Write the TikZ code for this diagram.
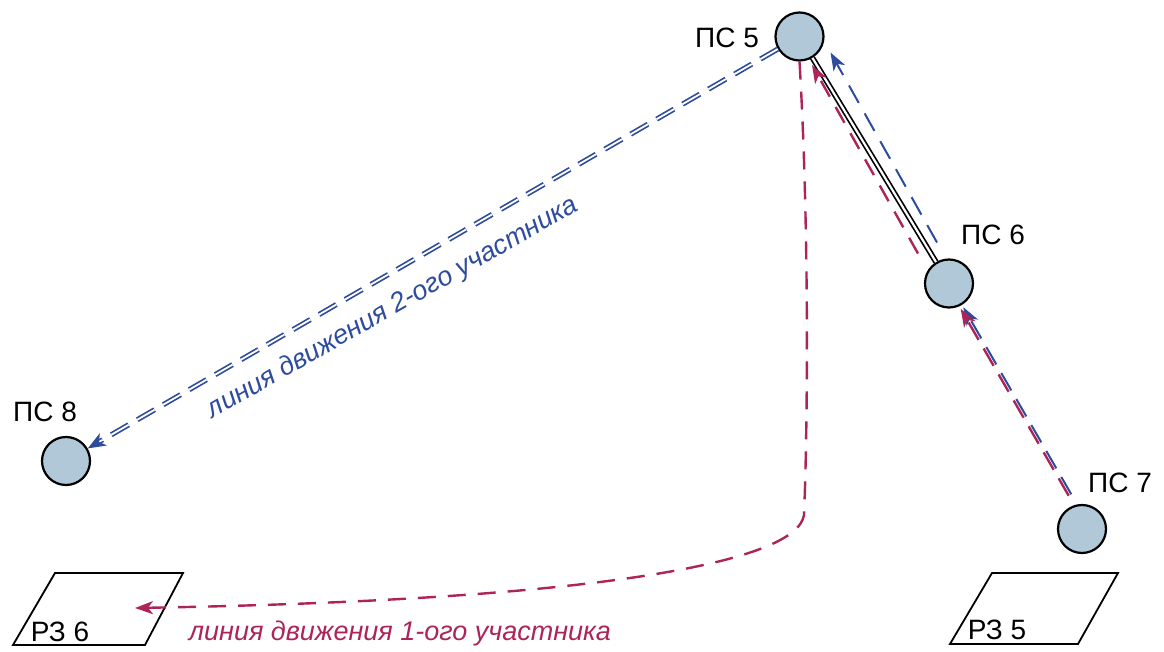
\documentclass[tikz,border=0pt]{standalone}
\usepackage{fontspec}
\setmainfont{Liberation Sans}
\usepackage{xcolor}
\usetikzlibrary{positioning, arrows.meta, calc}

\definecolor{routeblue}{RGB}{46,76,158}
\definecolor{routered}{RGB}{172,36,88}
\definecolor{stfill}{RGB}{176,200,216}

\begin{document}
\begin{tikzpicture}[
    x=0.5pt, y=-0.5pt,
    font=\fontsize{14}{17}\selectfont,
    station/.style={draw, circle, line width=1.1pt, fill=stfill, minimum size=24pt, inner sep=0pt},
    tag/.style={inner sep=1pt},
    zone/.style={draw, line width=0.9pt, line join=miter},
    rail/.style={draw=black, double=white, line width=0.85pt, double distance=1.1pt},
    route2/.style={draw=routeblue, double=white, line width=0.85pt, double distance=0.9pt, dash pattern=on 10pt off 5pt, -{Stealth[length=9pt,width=7pt,inset=2.5pt]}},
    blueway/.style={draw=routeblue, line width=1pt, dash pattern=on 10pt off 6pt, -{Stealth[length=9pt,width=6.5pt,inset=2.5pt]}},
    redway/.style={draw=routered, line width=1.2pt, dash pattern=on 9pt off 6pt, -{Stealth[length=9pt,width=6.5pt,inset=2.5pt]}},
    twin/.style={dash pattern=on 10pt off 5pt},
    note/.style={font=\fontsize{13.5}{16}\selectfont\itshape, inner sep=1pt}
]
\useasboundingbox (0,0) rectangle (1164,652);

% Stations
\node[station] (ps5) at (799.5,36.5) {};
\node[station] (ps6) at (949,283.5) {};
\node[station] (ps7) at (1082,529) {};
\node[station] (ps8) at (66,461) {};

\node[tag] (ps5l) at (727,38) {ПС 5};
\node[tag] (ps6l) at (993,235) {ПС 6};
\node[tag] (ps7l) at (1120,483) {ПС 7};
\node[tag] (ps8l) at (45,412) {ПС 8};

% Relay zones
\draw[zone] (13,645) -- (55,573) -- (183,573) -- (145,645) -- cycle;
\node[tag] (rz6) at (60,632) {РЗ 6};
\draw[zone] (950,644) -- (992,573) -- (1118,573) -- (1078,644) -- cycle;
\node[tag] (rz5) at (997,630) {РЗ 5};

% Lines
\draw[rail] (ps5) -- (ps6);
\draw[route2] (ps5) -- (ps8);
\node[note, text=routeblue, rotate=29.6] (lab2) at (393,308) {линия движения 2-ого участника};

\draw[blueway, twin] ($(ps7)+(-10.7,-34.7)$) -- ($(ps6)+(14.3,23.7)$);
\draw[redway, twin] ($(ps7)+(-13.3,-33.3)$) -- ($(ps6)+(11.7,25.3)$);
\draw[blueway] ($(ps6)+(-12,-41)$) -- ($(ps5)+(31,16)$);
\draw[redway] ($(ps6)+(-31,-30)$) -- ($(ps5)+(12.5,28.5)$);

\coordinate (end1) at (135,608);
\draw[redway] (ps5.south) .. controls (809,220) and (808,420) .. (804,515)
    .. controls (797,562) and (600,600) .. (end1);
\node[note, text=routered, anchor=base] (lab1) at (400,640) {линия движения 1-ого участника};
\end{tikzpicture}
\end{document}
